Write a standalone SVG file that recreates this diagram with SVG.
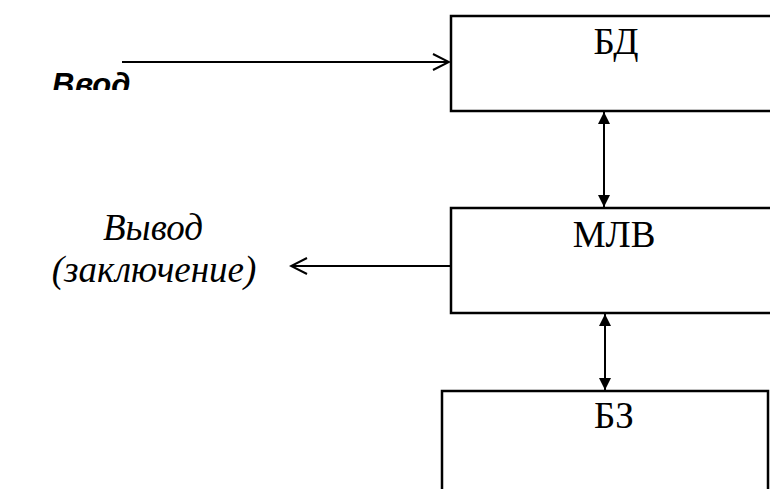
<svg xmlns="http://www.w3.org/2000/svg" width="770" height="489" viewBox="0 0 770 489">
<style>
.box{fill:#fff;stroke:#000;stroke-width:2.5}
.ln{stroke:#000;stroke-width:2;fill:none}
</style>
<defs>
<marker id="open" viewBox="0 0 20 20" refX="18" refY="10" markerWidth="20" markerHeight="20" markerUnits="userSpaceOnUse" orient="auto-start-reverse">
<path d="M2,2 L18,10 L2,18" fill="none" stroke="#000" stroke-width="2"/>
</marker>
<marker id="tri" viewBox="0 0 12 20" refX="12" refY="6" markerWidth="12" markerHeight="20" markerUnits="userSpaceOnUse" orient="auto-start-reverse">
<path d="M0,0 L12,6 L0,12 Z" fill="#000"/>
</marker>
<clipPath id="clipV"><rect x="0" y="0" width="200" height="90"/></clipPath>
</defs>
<g id="connectors">
<line class="ln" x1="122" y1="62" x2="449" y2="62" marker-end="url(#open)"/>
<line class="ln" x1="450" y1="266" x2="291" y2="266" marker-end="url(#open)"/>
<line class="ln" x1="604" y1="112" x2="604" y2="207" marker-start="url(#tri)" marker-end="url(#tri)"/>
<line class="ln" x1="605" y1="314" x2="605" y2="390" marker-start="url(#tri)" marker-end="url(#tri)"/>
</g>
<g id="bd">
<rect class="box" x="451" y="16" width="330" height="95"/>
<text x="616" y="54" font-family="'Liberation Serif', 'Times New Roman', serif" font-size="37" text-anchor="middle" fill="#000">БД</text>
</g>
<g id="mlv">
<rect class="box" x="451" y="208" width="330" height="105"/>
<text x="614" y="247" font-family="'Liberation Serif', 'Times New Roman', serif" font-size="37" text-anchor="middle" fill="#000">МЛВ</text>
</g>
<g id="bz">
<rect class="box" x="442" y="391" width="326" height="110"/>
<text x="614" y="428" font-family="'Liberation Serif', 'Times New Roman', serif" font-size="37" text-anchor="middle" fill="#000">БЗ</text>
</g>
<g id="vvod">
<text x="52" y="95" clip-path="url(#clipV)" font-family="'Liberation Sans', Arial, sans-serif" font-weight="bold" font-style="italic" font-size="31" fill="#000">Ввод</text>
</g>
<g id="vyvod">
<text x="153" y="240" font-family="'Liberation Serif', 'Times New Roman', serif" font-style="italic" font-size="37" text-anchor="middle" fill="#000">Вывод</text>
<text x="154" y="282" font-family="'Liberation Serif', 'Times New Roman', serif" font-style="italic" font-size="37" text-anchor="middle" fill="#000">(заключение)</text>
</g>
</svg>
